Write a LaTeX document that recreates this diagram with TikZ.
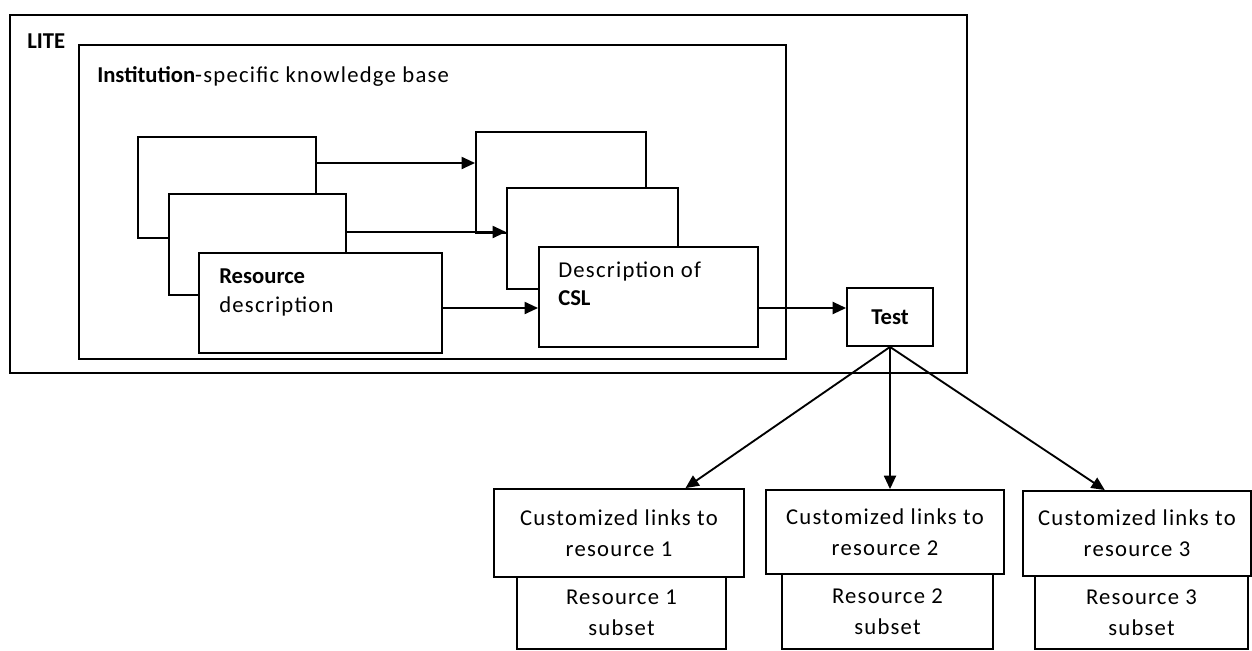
\documentclass[tikz,border=0pt]{standalone}
\usepackage{fontspec}
\setmainfont{Carlito}[LetterSpace=5.5,BoldFeatures={LetterSpace=0}]
\usetikzlibrary{arrows.meta,calc}
\begin{document}
\begin{tikzpicture}[x=0.75pt,y=-0.75pt,
  box/.style={draw, line width=1.4pt, fill=white, inner sep=0pt, anchor=north west},
  tbox/.style={draw, line width=1.4pt, fill=white, inner sep=0pt, align=center,
    font=\fontsize{17}{23.5}\selectfont},
  lbl/.style={inner sep=0pt, anchor=base west, font=\fontsize{17}{22}\selectfont},
  arr/.style={line width=1.4pt, -{Triangle[length=10pt,width=9pt]}}]
\useasboundingbox (0,0) rectangle (1252,650);
% outer containers
\node[box, minimum width=717.75pt, minimum height=268.5pt] (lite) at (9,14) {};
\node[box, minimum width=530.25pt, minimum height=235.5pt] (inst) at (78,44) {};
\node[lbl] (litelbl) at (27,48) {\textbf{LITE}};
\node[lbl] (instlbl) at (97,82) {\textbf{Institution}-specific knowledge base};
% left stack
\node[box, minimum width=133.5pt, minimum height=75.75pt] (A1) at (137,136) {};
\node[box, minimum width=132.75pt, minimum height=75.75pt] (A2) at (168,193) {};
\node[box, minimum width=182.25pt, minimum height=75pt] (A3) at (198,252) {};
\node[lbl] (reslbl) at (219,283) {\textbf{Resource}};
\node[lbl] (desclbl) at (219,312) {description};
% right stack
\node[box, minimum width=127.5pt, minimum height=75.75pt] (B1) at (475,131) {};
\node[box, minimum width=128.25pt, minimum height=75.75pt] (B2) at (506,187) {};
\node[box, minimum width=164.25pt, minimum height=75pt] (B3) at (538,246) {};
\node[lbl] (cslA) at (558,277) {Description of};
\node[lbl] (cslB) at (558,305) {\textbf{CSL}};
% test
\node[tbox, minimum width=64.5pt, minimum height=43.5pt] (test) at (890,317) {\textbf{Test}};
% lower boxes
\node[tbox, minimum width=156.75pt, minimum height=54pt] (D1) at (621.5,613) {Resource 1\\subset};
\node[tbox, minimum width=158.25pt, minimum height=56.25pt] (D2) at (887.5,611.5) {Resource 2\\subset};
\node[tbox, minimum width=159.75pt, minimum height=54.75pt] (D3) at (1141.5,612.5) {Resource 3\\subset};
\node[tbox, minimum width=187.5pt, minimum height=66pt] (C1) at (619,533) {Customized links to\\resource 1};
\node[tbox, minimum width=178.5pt, minimum height=63pt] (C2) at (885,532) {Customized links to\\resource 2};
\node[tbox, minimum width=171pt, minimum height=63.75pt] (C3) at (1137,533.5) {Customized links to\\resource 3};
% arrows
\draw[arr] (A1.north east) ++(0,27) coordinate (a1) -- (a1 -| B1.west);
\draw[arr] (A2.north east) ++(0,39) coordinate (a2) -- (a2 -| B2.west);
\draw[arr] (A3.north east) ++(0,56) coordinate (a3) -- (a3 -| B3.west);
\draw[arr] (B3.north east) ++(0,62) coordinate (b3) -- (b3 -| test.west);
\draw[arr] (test.south) -- ($(C1.north west)!0.764!(C1.north east)$);
\draw[arr] (test.south) -- (test.south |- C2.north);
\draw[arr] (test.south) -- ($(C3.north west)!0.36!(C3.north east)$);
\end{tikzpicture}
\end{document}
